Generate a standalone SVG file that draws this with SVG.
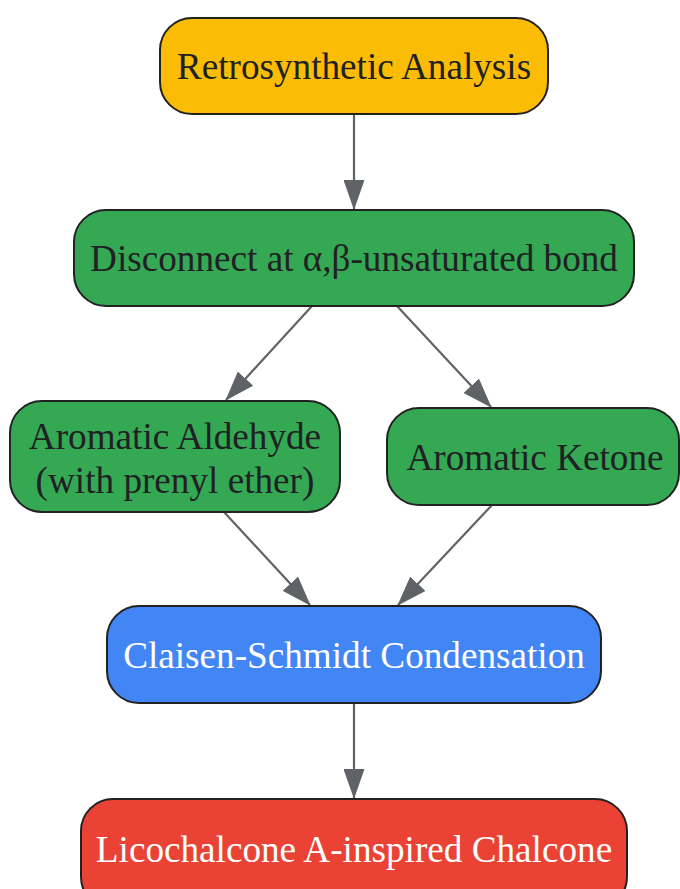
<svg xmlns="http://www.w3.org/2000/svg" width="680" height="889" viewBox="0 0 680 889">
<style>
.node{stroke:#222222;stroke-width:2}
.t{font-family:"Liberation Serif","Times New Roman",serif;font-size:37.2px;text-anchor:middle;fill:#202124}
.w{fill:#ffffff}
.e{stroke:#5f6368;stroke-width:2.2;fill:none;marker-end:url(#ah)}
</style>
<defs>
<marker id="ah" markerWidth="30" markerHeight="21" refX="29" refY="10.5" orient="auto" markerUnits="userSpaceOnUse" viewBox="0 0 30 21">
<path d="M0,0 L30,10.5 L0,21 Z" fill="#5f6368"/>
</marker>
</defs>
<rect width="680" height="889" fill="#ffffff"/>
<g id="connectors">
<line class="e" x1="354" y1="114" x2="354" y2="209"/>
<line class="e" x1="312" y1="306" x2="226" y2="400"/>
<line class="e" x1="397" y1="306" x2="491" y2="407"/>
<line class="e" x1="224" y1="512" x2="310" y2="605"/>
<line class="e" x1="492" y1="505" x2="398" y2="605"/>
<line class="e" x1="354" y1="703" x2="354" y2="798"/>
</g>
<g id="n1"><rect class="node" x="160" y="18" width="388" height="96" rx="32" fill="#FBBC05"/><text class="t" x="354" y="79">Retrosynthetic Analysis</text></g>
<g id="n2"><rect class="node" x="74" y="210" width="560" height="96" rx="32" fill="#34A853"/><text class="t" x="354" y="271">Disconnect at α,β-unsaturated bond</text></g>
<g id="n3"><rect class="node" x="10" y="401" width="330" height="111" rx="32" fill="#34A853"/><text class="t" x="175" y="449">Aromatic Aldehyde</text><text class="t" x="175" y="493">(with prenyl ether)</text></g>
<g id="n4"><rect class="node" x="387" y="408" width="292" height="97" rx="32" fill="#34A853"/><text class="t" x="535" y="470">Aromatic Ketone</text></g>
<g id="n5"><rect class="node" x="107" y="606" width="494" height="97" rx="32" fill="#4285F4"/><text class="t w" x="354" y="668">Claisen-Schmidt Condensation</text></g>
<g id="n6"><rect class="node" x="81" y="799" width="546" height="110" rx="32" fill="#EA4335"/><text class="t w" x="354" y="862">Licochalcone A-inspired Chalcone</text></g>
</svg>
